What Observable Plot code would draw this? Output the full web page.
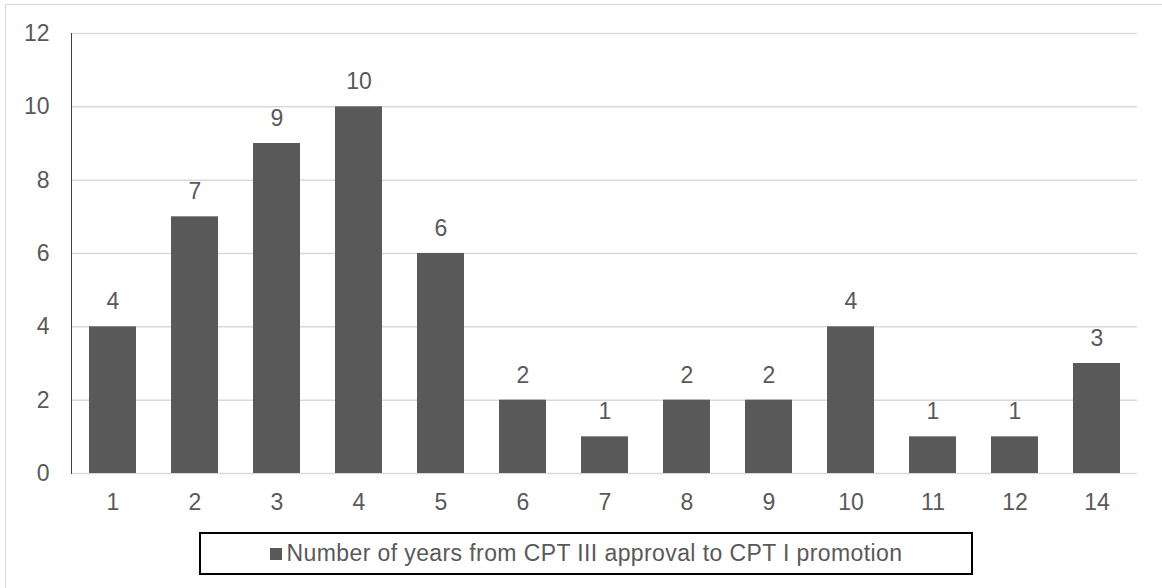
<!DOCTYPE html>
<html>
<head>
<meta charset="utf-8">
<script src="https://cdn.jsdelivr.net/npm/d3@7"></script>
<script src="https://cdn.jsdelivr.net/npm/@observablehq/plot@0.6"></script>
<style>
  html, body { margin: 0; padding: 0; background: #fff; width: 1162px; height: 588px; overflow: hidden; position: relative; font-family: "Liberation Sans", Arial, sans-serif; }
  #frame { position: absolute; left: 5px; top: 4px; width: 1180px; height: 600px; border: 1.5px solid #d9d9d9; box-sizing: border-box; }
  #chart { position: absolute; left: 0; top: 0; }
  #legend { position: absolute; left: 199px; top: 532px; width: 774px; height: 43px; border: 2px solid #000; box-sizing: border-box; display: flex; align-items: center; justify-content: center; color: #595959; font-size: 23px; }
  #legend .sw { display: inline-block; width: 12px; height: 12px; background: #595959; margin-right: 5px; }
  #legend .lt { display: inline-block; letter-spacing: 0.4px; }
</style>
</head>
<body>
<div id="frame"></div>
<div id="chart"></div>
<div id="legend"></div>
<script>
const categories = ["1","2","3","4","5","6","7","8","9","10","11","12","14"];
const counts = [4, 7, 9, 10, 6, 2, 1, 2, 2, 4, 1, 1, 3];
const yTicks = [0, 2, 4, 6, 8, 10, 12];
const seriesName = "Number of years from CPT III approval to CPT I promotion";

const data = categories.map((c, i) => ({category: c, value: counts[i]}));

const textColor = "#595959";
const barColor = "#595959";

const chart = Plot.plot({
  width: 1162,
  height: 588,
  marginLeft: 71,
  marginRight: 25,
  marginTop: 33,
  marginBottom: 115,
  style: { fontFamily: "'Liberation Sans', Arial, sans-serif", fontSize: "23px", color: textColor, background: "transparent" },
  x: { type: "band", domain: categories, paddingInner: 0.43, paddingOuter: 0.215, label: null },
  y: { domain: [0, 12], label: null },
  marks: [
    Plot.gridY(yTicks, { stroke: "#d9d9d9", strokeOpacity: 1, strokeWidth: 1.5 }),
    Plot.barY(data, { x: "category", y: "value", fill: barColor }),
    Plot.frame({ anchor: "left", stroke: "#404040", strokeWidth: 1 }),
    Plot.text(data, { x: "category", y: "value", text: d => String(d.value), dy: -25, fill: textColor, fontSize: 23 }),
    Plot.axisX({ tickSize: 0, tickPadding: 20, fill: textColor, fontSize: 23 }),
    Plot.axisY(yTicks, { tickSize: 0, tickPadding: 22, fill: textColor, fontSize: 23 })
  ]
});
document.getElementById("chart").appendChild(chart);

const legend = document.getElementById("legend");
const sw = document.createElement("span"); sw.className = "sw";
const lt = document.createElement("span"); lt.className = "lt"; lt.textContent = seriesName;
legend.appendChild(sw); legend.appendChild(lt);
</script>
</body>
</html>
